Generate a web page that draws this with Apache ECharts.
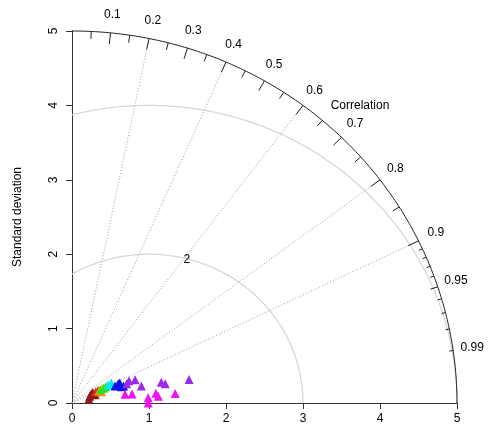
<!DOCTYPE html>
<html>
<head>
<meta charset="utf-8">
<script src="https://cdn.jsdelivr.net/npm/echarts@6/dist/echarts.min.js"></script>
<style>
  html, body { margin: 0; padding: 0; background: #ffffff; }
  #chart { width: 492px; height: 434px; }
</style>
</head>
<body>
<div id="chart"></div>
<script>
// Taylor diagram: standard deviation (radius) vs correlation (angle)
const maxSd = 5;
const refSd = 1;
const sdTicks = [0, 1, 2, 3, 4, 5];
const corLabels = [0.1, 0.2, 0.3, 0.4, 0.5, 0.6, 0.7, 0.8, 0.9, 0.95, 0.99];
const corMajorTicks = [0.1, 0.2, 0.3, 0.4, 0.5, 0.6, 0.7, 0.8, 0.9];
const corMediumTicks = [0.05, 0.15, 0.25, 0.35, 0.45, 0.55, 0.65, 0.75, 0.85, 0.95];
const corMinorTicks = [0.91, 0.92, 0.93, 0.94, 0.96, 0.97, 0.98, 0.99];
const corLines = [0.2, 0.4, 0.6, 0.8, 0.9];
const rmsArcs = [2, 4];
const rmsArcLabels = ['2'];

// model results as [standard deviation, correlation]
const darkRedModels = [[0.247, 0.931], [0.304, 0.888], [0.226, 0.975], [0.320, 0.939], [0.277, 0.901]];
const redModels = [[0.344, 0.900], [0.380, 0.894]];
const orangeModels = [[0.385, 0.909], [0.409, 0.930]];
const yellowModels = [[0.438, 0.890]];
const greenModels = [[0.411, 0.900], [0.456, 0.899], [0.492, 0.894]];
const cyanModels = [[0.528, 0.890], [0.577, 0.884]];
const blueModels = [[0.605, 0.925], [0.654, 0.918], [0.677, 0.946], [0.708, 0.946], [0.676, 0.917]];
const purpleModels = [[0.756, 0.939], [0.798, 0.927], [0.877, 0.935], [0.929, 0.969], [1.193, 0.972], [1.238, 0.978], [1.553, 0.979]];
const magentaModels = [[0.700, 0.986], [0.789, 0.988], [0.992, 0.9975], [1.098, 0.993], [1.124, 0.9968], [1.346, 0.9954], [0.990, 1.0]];

const modelGroups = [
  { name: 'darkred', color: '#8b1a1a', data: darkRedModels },
  { name: 'red', color: '#e8231a', data: redModels },
  { name: 'orange', color: '#ff8c00', data: orangeModels },
  { name: 'yellow', color: '#f0e000', data: yellowModels },
  { name: 'green', color: '#33dd22', data: greenModels },
  { name: 'cyan', color: '#00e8f0', data: cyanModels },
  { name: 'blue', color: '#0a14e8', data: blueModels },
  { name: 'purple', color: '#9a2be8', data: purpleModels },
  { name: 'magenta', color: '#f010f0', data: magentaModels }
];

const FONT = '"Liberation Sans", Arial, sans-serif';
const TEXT = '#000000';

function toXY(sd, cor) {
  return [sd * cor, sd * Math.sqrt(Math.max(0, 1 - cor * cor))];
}

function arcPoints(cx, r, a0, a1, n) {
  const pts = [];
  for (let i = 0; i <= n; i++) {
    const a = a0 + (a1 - a0) * i / n;
    pts.push([cx + r * Math.cos(a), r * Math.sin(a)]);
  }
  return pts;
}

function textItem(p, text) {
  return { type: 'text', x: p[0], y: p[1],
           style: { text: text, fill: TEXT, font: '12px ' + FONT, align: 'center', verticalAlign: 'middle' } };
}

const series = [];

// outer correlation arc
series.push({
  type: 'line', silent: true, symbol: 'none', clip: false, z: 3,
  data: arcPoints(0, maxSd, 0, Math.PI / 2, 180),
  lineStyle: { color: '#222', width: 1 }
});

// centred RMS difference arcs around the reference point
rmsArcs.forEach(r => {
  const start = Math.acos(Math.max(-1, -refSd / r));
  series.push({
    type: 'line', silent: true, symbol: 'none', clip: false, z: 1,
    data: arcPoints(refSd, r, 0, start, 160),
    lineStyle: { color: '#d4d4d4', width: 1.2 }
  });
});

// dotted correlation rays
corLines.forEach(c => {
  series.push({
    type: 'line', silent: true, symbol: 'none', clip: false, z: 1,
    data: [[0, 0], toXY(maxSd, c)],
    lineStyle: { color: '#9a9a9a', width: 1, type: [1, 2] }
  });
});

// tick marks on the outer arc
const tickData = []
  .concat(corMajorTicks.map(c => [c, 0.03]))
  .concat(corMediumTicks.map(c => [c, 0.02]))
  .concat(corMinorTicks.map(c => [c, 0.01]));
series.push({
  type: 'custom', silent: true, clip: false, z: 3,
  data: tickData,
  renderItem: function (params, api) {
    const c = api.value(0), f = api.value(1);
    const p1 = api.coord(toXY(maxSd, c));
    const p2 = api.coord(toXY(maxSd * (1 - f), c));
    return { type: 'line', shape: { x1: p1[0], y1: p1[1], x2: p2[0], y2: p2[1] },
             style: { stroke: '#222', lineWidth: 1 } };
  }
});

// correlation labels
series.push({
  type: 'custom', silent: true, clip: false, z: 4,
  data: corLabels.map(c => [c, 0]),
  renderItem: function (params, api) {
    const c = api.value(0);
    return textItem(api.coord(toXY(maxSd * 1.05, c)), String(c));
  }
});

// captions placed in data space
const captions = [{ pos: [3.74, 4.0], text: 'Correlation' }, { pos: [1.49, 1.92], text: rmsArcLabels[0] }];
series.push({
  type: 'custom', silent: true, clip: false, z: 4,
  data: captions.map(c => c.pos),
  renderItem: function (params, api) {
    return textItem(api.coord([api.value(0), api.value(1)]), captions[params.dataIndex].text);
  }
});

// model points
modelGroups.forEach(g => {
  series.push({
    name: g.name, type: 'scatter', clip: false, z: 6,
    symbol: 'triangle', symbolSize: 9,
    itemStyle: { color: g.color, opacity: 1 },
    data: g.data.map(d => toXY(d[0], d[1]))
  });
});

const chart = echarts.init(document.getElementById('chart'), null, { renderer: 'canvas' });
chart.setOption({
  animation: false,
  backgroundColor: '#ffffff',
  grid: { left: 72, top: 31, width: 385, height: 372 },
  xAxis: {
    type: 'value', min: sdTicks[0], max: sdTicks[sdTicks.length - 1], interval: 1,
    axisLine: { show: true, lineStyle: { color: '#333', width: 1 } },
    axisTick: { show: true, length: 6, lineStyle: { color: '#333' } },
    axisLabel: { color: TEXT, fontSize: 12, fontFamily: FONT, margin: 10 },
    splitLine: { show: false }
  },
  yAxis: {
    type: 'value', min: sdTicks[0], max: sdTicks[sdTicks.length - 1], interval: 1,
    name: 'Standard deviation', nameLocation: 'middle', nameGap: 48, nameRotate: 90,
    nameTextStyle: { color: TEXT, fontSize: 12, fontFamily: FONT },
    axisLine: { show: true, lineStyle: { color: '#333', width: 1 } },
    axisTick: { show: true, length: 6, lineStyle: { color: '#333' } },
    axisLabel: { color: TEXT, fontSize: 12, fontFamily: FONT, rotate: 90, margin: 12 },
    splitLine: { show: false }
  },
  series: series
});
</script>
</body>
</html>
